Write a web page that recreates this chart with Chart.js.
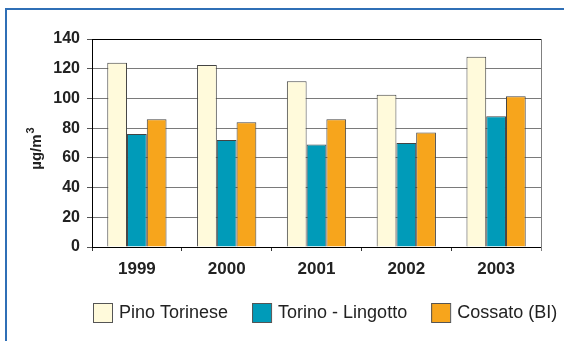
<!DOCTYPE html>
<html>
<head>
<meta charset="utf-8">
<script src="https://cdn.jsdelivr.net/npm/chart.js@4"></script>
<style>
  body { margin: 0; background: #fff; }
</style>
</head>
<body>
<canvas id="barChart" width="564" height="341"></canvas>
<script>
const years = ['1999', '2000', '2001', '2002', '2003'];
const pinoTorinese = [124, 122.5, 111.5, 102.5, 128];
const torinoLingotto = [76, 72, 69, 70, 88];
const cossatoBI = [86, 84, 86, 77, 101.5];
const yTicks = [0, 20, 40, 60, 80, 100, 120, 140];

const FONT = '"Liberation Sans", Arial, sans-serif';

// blue frame on left and top of the panel
const framePlugin = {
  id: 'framePlugin',
  beforeDraw(chart) {
    const ctx = chart.ctx;
    ctx.save();
    ctx.strokeStyle = '#2f6fb6';
    ctx.lineWidth = 2;
    ctx.beginPath();
    ctx.moveTo(6, chart.height);
    ctx.lineTo(6, 9);
    ctx.lineTo(chart.width, 9);
    ctx.stroke();
    ctx.restore();
  },
  beforeDatasetsDraw(chart) {
    // grey right edge of the plot area
    const { right, top, bottom } = chart.chartArea;
    const ctx = chart.ctx;
    ctx.save();
    ctx.strokeStyle = '#808080';
    ctx.lineWidth = 1;
    ctx.beginPath();
    ctx.moveTo(right + 0.5, top);
    ctx.lineTo(right + 0.5, bottom + 4);
    ctx.stroke();
    ctx.restore();
  }
};

// rotated unit label with a real superscript
const unitPlugin = {
  id: 'unitPlugin',
  afterDraw(chart) {
    const ctx = chart.ctx;
    const { top, bottom } = chart.chartArea;
    ctx.save();
    ctx.translate(41, (top + bottom) / 2 + 6);
    ctx.rotate(-Math.PI / 2);
    ctx.fillStyle = '#222';
    ctx.textBaseline = 'alphabetic';
    ctx.font = 'bold 15px ' + FONT;
    const base = 'µg/m';
    const w = ctx.measureText(base).width;
    ctx.font = 'bold 11px ' + FONT;
    const sw = ctx.measureText('3').width;
    const x0 = -(w + sw) / 2;
    ctx.font = 'bold 15px ' + FONT;
    ctx.fillText(base, x0, 0);
    ctx.font = 'bold 11px ' + FONT;
    ctx.fillText('3', x0 + w + 1, -7);
    ctx.restore();
  }
};

// legend row below the axis
const legendPlugin = {
  id: 'legendPlugin',
  afterDraw(chart) {
    const ctx = chart.ctx;
    let x = chart.chartArea.left + 1;
    const y = 303;
    ctx.save();
    ctx.font = '18px ' + FONT;
    ctx.textBaseline = 'middle';
    chart.data.datasets.forEach((ds) => {
      ctx.fillStyle = ds.backgroundColor;
      ctx.fillRect(x, y, 19, 19);
      ctx.strokeStyle = '#555';
      ctx.lineWidth = 1;
      ctx.strokeRect(x + 0.5, y + 0.5, 19, 19);
      ctx.fillStyle = '#222';
      ctx.fillText(ds.label, x + 26, y + 10);
      x += 26 + ctx.measureText(ds.label).width + 24;
    });
    ctx.restore();
  }
};

new Chart(document.getElementById('barChart'), {
  type: 'bar',
  data: {
    labels: years,
    datasets: [
      { label: 'Pino Torinese', data: pinoTorinese, backgroundColor: '#fffadb' },
      { label: 'Torino - Lingotto', data: torinoLingotto, backgroundColor: '#009bb9' },
      { label: 'Cossato (BI)', data: cossatoBI, backgroundColor: '#f7a51c' },
    ].map((ds) => ({
      ...ds,
      borderColor: '#444',
      borderWidth: 1,
      barPercentage: 1,
      categoryPercentage: 0.66,
    })),
  },
  options: {
    responsive: false,
    animation: false,
    layout: { padding: { left: 0, right: 23, top: 39, bottom: 54 } },
    plugins: {
      legend: { display: false },
      tooltip: { enabled: false },
    },
    scales: {
      x: {
        afterFit: (scale) => { scale.height = 40; },
        grid: {
          offset: true,
          drawOnChartArea: false,
          tickLength: 4,
          tickColor: '#333',
        },
        border: { color: '#000', width: 1 },
        ticks: {
          padding: 8,
          color: '#222',
          font: { family: FONT, size: 17, weight: 'bold' },
        },
      },
      y: {
        min: 0,
        max: 140,
        afterFit: (scale) => { scale.width = 92; },
        afterBuildTicks: (scale) => { scale.ticks = yTicks.map((v) => ({ value: v })); },
        grid: {
          tickLength: 5,
          color: (c) => (c.tick && c.tick.value === 140 ? '#000' : '#7a7a7a'),
          tickColor: '#555',
        },
        border: { color: '#000', width: 1 },
        ticks: {
          padding: 7,
          color: '#222',
          font: { family: FONT, size: 16, weight: 'bold' },
        },
      },
    },
  },
  plugins: [framePlugin, unitPlugin, legendPlugin],
});
</script>
</body>
</html>
